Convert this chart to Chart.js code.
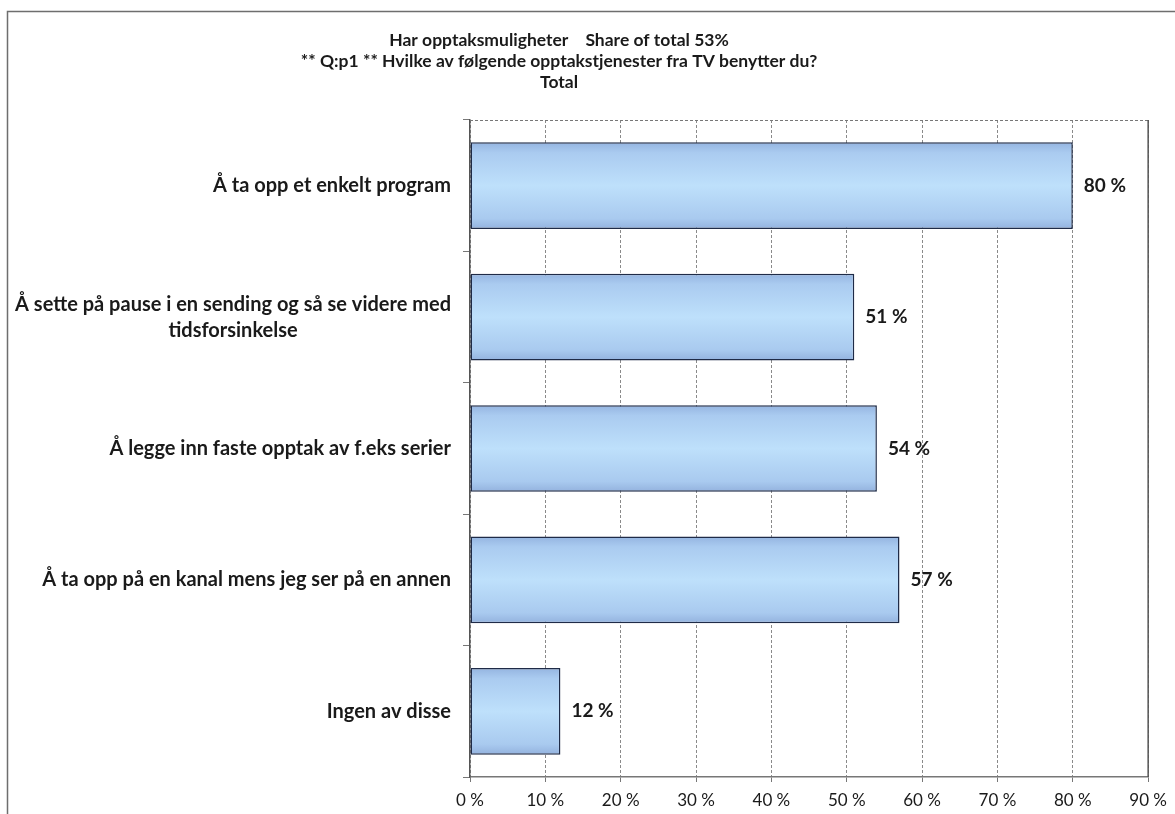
<!DOCTYPE html>
<html>
<head>
<meta charset="utf-8">
<script src="https://cdn.jsdelivr.net/npm/chart.js@4.4.1/dist/chart.umd.min.js"></script>
<style>
  html, body { margin: 0; padding: 0; background: #fff; }
  canvas { display: block; }
</style>
</head>
<body>
<canvas id="opptakChart" width="1175" height="814"></canvas>
<script>
// Chart data
const titleLines = [
    'Har opptaksmuligheter    Share of total 53%',
    '** Q:p1 ** Hvilke av følgende opptakstjenester fra TV benytter du?',
    'Total'
];
const categories = [
    ['Å ta opp et enkelt program'],
    ['Å sette på pause i en sending og så se videre med', 'tidsforsinkelse'],
    ['Å legge inn faste opptak av f.eks serier'],
    ['Å ta opp på en kanal mens jeg ser på en annen'],
    ['Ingen av disse']
];
const shares = [80, 51, 54, 57, 12];
const xTicks = [0, 10, 20, 30, 40, 50, 60, 70, 80, 90];

const FONT = 'Lato, "Open Sans", sans-serif';
const BAR_PCT = 0.66;

// bar fill: light blue, darker towards top and bottom edges
function barFill(context) {
    const chart = context.chart;
    const yScale = chart.scales.y;
    if (!yScale || !yScale.height) return '#b3d5f6';
    const center = yScale.getPixelForValue(context.dataIndex);
    const half = (yScale.height / categories.length) * BAR_PCT / 2;
    const g = chart.ctx.createLinearGradient(0, center - half, 0, center + half);
    g.addColorStop(0, '#94b4e0');
    g.addColorStop(0.12, '#aacbf0');
    g.addColorStop(0.5, '#bee0fb');
    g.addColorStop(0.88, '#a9caef');
    g.addColorStop(1, '#93b2de');
    return g;
}

// white background, outer frame, plot border and title
const framePlugin = {
    id: 'frame',
    beforeDraw(chart) {
        const ctx = chart.ctx;
        ctx.save();
        ctx.fillStyle = '#fff';
        ctx.fillRect(0, 0, chart.width, chart.height);
        ctx.strokeStyle = '#6e6e6e';
        ctx.lineWidth = 1.5;
        ctx.beginPath();
        ctx.moveTo(7.5, chart.height);
        ctx.lineTo(7.5, 11.5);
        ctx.lineTo(chart.width, 11.5);
        ctx.stroke();

        ctx.fillStyle = '#1a1a1a';
        ctx.font = 'bold 17.5px ' + FONT;
        ctx.textAlign = 'center';
        ctx.textBaseline = 'middle';
        titleLines.forEach((line, i) => {
            ctx.fillText(line, 559, 40 + i * 21);
        });
        ctx.restore();
    },
    afterDraw(chart) {
        const { ctx, chartArea } = chart;
        ctx.save();
        ctx.strokeStyle = '#777';
        ctx.lineWidth = 1;
        ctx.setLineDash([3, 2]);
        ctx.beginPath();
        ctx.moveTo(chartArea.left, chartArea.top + 0.5);
        ctx.lineTo(chartArea.right, chartArea.top + 0.5);
        ctx.stroke();
        ctx.setLineDash([]);
        ctx.strokeStyle = '#555';
        ctx.lineWidth = 1.5;
        ctx.beginPath();
        ctx.moveTo(chartArea.right, chartArea.top);
        ctx.lineTo(chartArea.right, chartArea.bottom);
        ctx.stroke();
        ctx.restore();
    }
};

// category labels, lines centred on each other like the original
const categoryLabelPlugin = {
    id: 'categoryLabels',
    afterDraw(chart) {
        const ctx = chart.ctx;
        const yScale = chart.scales.y;
        const right = chart.chartArea.left - 19;
        const lineH = 26;
        ctx.save();
        ctx.fillStyle = '#1a1a1a';
        ctx.font = 'bold 20px ' + FONT;
        ctx.textAlign = 'center';
        ctx.textBaseline = 'middle';
        categories.forEach((lines, i) => {
            const y = yScale.getPixelForTick(i);
            const w = Math.max(...lines.map(l => ctx.measureText(l).width));
            const cx = right - w / 2;
            const y0 = y - (lines.length - 1) * lineH / 2;
            lines.forEach((l, j) => ctx.fillText(l, cx, y0 + j * lineH));
        });
        ctx.restore();
    }
};

// value labels at the bar ends
const valueLabelPlugin = {
    id: 'valueLabels',
    afterDatasetsDraw(chart) {
        const ctx = chart.ctx;
        const meta = chart.getDatasetMeta(0);
        ctx.save();
        ctx.fillStyle = '#1a1a1a';
        ctx.font = 'bold 19px ' + FONT;
        ctx.textAlign = 'left';
        ctx.textBaseline = 'middle';
        meta.data.forEach((bar, i) => {
            ctx.fillText(shares[i] + ' %', bar.x + 11, bar.y);
        });
        ctx.restore();
    }
};

const ctx = document.getElementById('opptakChart').getContext('2d');
new Chart(ctx, {
    type: 'bar',
    data: {
        labels: categories,
        datasets: [{
            data: shares,
            backgroundColor: barFill,
            borderColor: '#1f2b47',
            borderWidth: 1.5,
            borderSkipped: false,
            categoryPercentage: 1,
            barPercentage: BAR_PCT
        }]
    },
    options: {
        indexAxis: 'y',
        responsive: false,
        animation: false,
        layout: {
            padding: { top: 120, right: 22, left: 0, bottom: 0 }
        },
        plugins: {
            legend: { display: false },
            title: { display: false },
            tooltip: { enabled: false }
        },
        scales: {
            x: {
                min: 0,
                max: 90,
                afterBuildTicks(scale) {
                    scale.ticks = xTicks.map(v => ({ value: v }));
                },
                afterFit(scale) {
                    scale.height = 37;
                },
                ticks: {
                    callback: v => v + ' %',
                    color: '#1a1a1a',
                    font: { family: FONT, size: 17 },
                    padding: 8,
                    maxRotation: 0
                },
                grid: {
                    color: '#8a8a8a',
                    lineWidth: 1,
                    tickLength: 5,
                    tickColor: '#777'
                },
                border: {
                    color: '#777',
                    width: 1.5,
                    dash: [3, 2]
                }
            },
            y: {
                afterFit(scale) {
                    scale.width = 470;
                },
                ticks: { display: false },
                grid: {
                    drawOnChartArea: false,
                    offset: true,
                    tickLength: 7,
                    tickColor: '#777',
                    color: '#777'
                },
                border: {
                    color: '#555',
                    width: 1.5
                }
            }
        }
    },
    plugins: [framePlugin, categoryLabelPlugin, valueLabelPlugin]
});
</script>
</body>
</html>
